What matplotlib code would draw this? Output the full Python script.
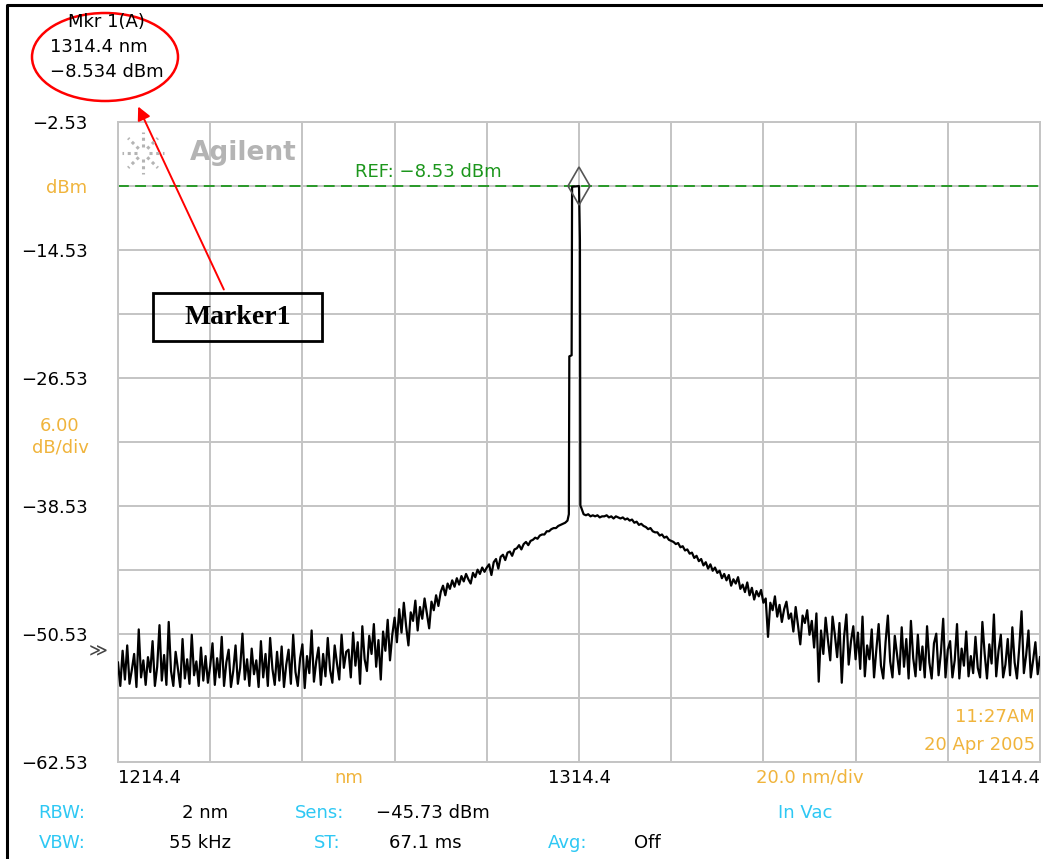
import numpy as np
import matplotlib
matplotlib.use("Agg")
import matplotlib.pyplot as plt
from matplotlib.transforms import Affine2D
from matplotlib.patches import Ellipse, Rectangle, FancyArrowPatch
from matplotlib.lines import Line2D

W, H = 1043, 859

# span / scale settings of the analyser screen
wl_start, wl_stop = 1214.4, 1414.4
ref_level = -8.53
db_per_div = 6.0

# trace left of the laser line (1214.4 .. 1311.9 nm, 0.5 nm steps)
left_dbm = [
    -53.2, -55.4, -52.1, -54.8, -51.6, -55.2, -53.9, -52.4, -55.5, -50.1,
    -54.6, -53.0, -55.3, -52.7, -54.1, -51.2, -55.4, -53.6, -49.7, -54.9,
    -52.5, -55.3, -49.4, -54.0, -55.4, -52.2, -53.8, -55.5, -51.0, -54.7,
    -52.9, -55.2, -50.6, -54.4, -53.1, -55.4, -51.8, -54.9, -52.6, -55.1,
    -53.5, -51.4, -55.3, -52.8, -54.6, -50.8, -55.4, -53.2, -52.0, -55.5,
    -54.0, -51.6, -55.2, -53.7, -50.5, -54.8, -52.9, -55.4, -51.9, -54.3,
    -53.0, -55.5, -51.2, -54.6, -52.4, -55.4, -50.9, -53.8, -55.3, -52.2,
    -54.9, -51.7, -55.5, -53.4, -52.0, -55.2, -50.6, -54.1, -55.4, -52.8,
    -51.5, -55.6, -52.6, -54.2, -50.2, -55.0, -53.1, -51.8, -55.3, -52.4,
    -54.5, -50.9, -53.9, -55.1, -51.6, -53.3, -54.8, -50.6, -53.7, -52.2,
    -52.0, -54.6, -50.4, -53.5, -51.3, -55.2, -49.8, -52.9, -54.0, -50.7,
    -52.4, -49.6, -53.6, -51.1, -54.8, -50.3, -52.1, -49.2, -53.0, -50.6,
    -49.0, -51.3, -48.2, -50.4, -47.6, -49.8, -51.6, -48.5, -49.3, -47.4,
    -50.2, -48.0, -49.1, -47.2, -48.6, -50.0, -47.5, -48.3, -46.9, -47.9,
    -46.6, -46.0, -46.9, -45.8, -46.3, -45.5, -46.1, -45.3, -45.9, -45.1,
    -45.6, -44.9, -45.4, -45.8, -44.8, -45.2, -44.5, -44.9, -44.3, -44.7,
    -44.3, -44.0, -45.0, -43.8, -43.5, -44.4, -43.3, -43.1, -43.6, -42.9,
    -42.8, -43.2, -42.6, -42.5, -42.2, -42.6, -42.1, -41.9, -42.2, -41.8,
    -41.7, -41.5, -41.6, -41.3, -41.2, -41.2, -40.9, -40.9, -40.7, -40.6,
    -40.6, -40.4, -40.3, -40.2, -40.1, -39.9,
]
left_stop = 1311.9

# laser line itself
peak_wl = [1312.2, 1312.3, 1312.8, 1312.9, 1314.4, 1314.6, 1314.7]
peak_dbm = [-39.3, -24.5, -24.4, -8.6, -8.534, -13.6, -38.5]

# trace right of the laser line (1314.9 .. 1414.4 nm)
right_dbm = [
    -38.7, -39.3, -39.4, -39.3, -39.5, -39.4, -39.5, -39.4, -39.6, -39.5,
    -39.5, -39.4, -39.6, -39.5, -39.7, -39.5, -39.6, -39.7, -39.6, -39.8,
    -39.7, -39.9, -39.8, -40.1, -40.0, -40.3, -40.2, -40.4, -40.5, -40.7,
    -40.6, -40.9, -41.0, -41.0, -41.3, -41.2, -41.5, -41.4, -41.7, -41.8,
    -41.9, -42.1, -42.0, -42.4, -42.3, -42.7, -42.6, -43.0, -42.9, -43.4,
    -43.2, -43.7, -43.5, -44.1, -43.8, -44.4, -44.0, -44.6, -44.3, -44.8,
    -44.6, -45.3, -44.9, -45.5, -45.0, -46.0, -45.4, -45.8, -45.2, -46.3,
    -45.9, -46.6, -45.7, -46.9, -46.2, -47.3, -46.5, -47.0, -46.4, -47.6,
    -47.2, -50.8, -47.6, -48.3, -47.0, -48.9, -47.8, -49.4, -48.2, -47.5,
    -49.1, -48.6, -50.3, -48.0, -49.7, -51.5, -48.8, -49.5, -48.3, -50.6,
    -49.3, -51.8, -48.6, -55.0, -50.2, -52.4, -49.0, -51.1, -53.0, -48.9,
    -50.6, -52.7, -49.5, -55.1, -50.8, -48.7, -53.4, -51.2, -49.8, -52.9,
    -50.4, -53.8, -48.9, -54.5, -51.6, -52.9, -50.1, -54.6, -52.0, -49.6,
    -53.5, -54.7, -51.3, -48.8, -53.1, -54.6, -50.7, -52.5, -54.3, -49.9,
    -53.6, -51.0, -54.7, -49.3, -52.8, -54.5, -50.6, -53.9, -51.7, -54.6,
    -49.8, -53.2, -54.7, -51.4, -50.5, -54.4, -52.3, -49.1, -54.6, -52.0,
    -51.2, -54.6, -53.0, -49.6, -54.7, -51.9, -53.5, -50.3, -54.5, -52.6,
    -54.2, -50.8, -53.7, -54.6, -49.4, -52.4, -54.7, -51.5, -53.3, -48.7,
    -54.5, -52.1, -50.6, -54.6, -53.4, -51.0, -54.4, -49.9, -53.2, -54.7,
    -51.8, -48.4, -54.2, -52.5, -50.2, -54.6, -53.0, -51.3, -54.3, -52.7,
]
right_start = 1314.9

mkr_wl, mkr_dbm = 1314.4, -8.534

x_label_pos = [1214.4, 1264.4, 1314.4, 1364.4, 1414.4]
x_labels = ["1214.4", "nm", "1314.4", "20.0 nm/div", "1414.4"]
y_labels = ["−62.53", "", "−50.53", "", "−38.53", "", "−26.53", "",
            "−14.53", "dBm", "−2.53"]

wl = np.concatenate([np.linspace(wl_start, left_stop, len(left_dbm)),
                     peak_wl,
                     np.linspace(right_start, wl_stop, len(right_dbm))])
dbm = np.concatenate([left_dbm, peak_dbm, right_dbm])

orange = "#f0b43c"
cyan = "#2ec8f4"
green = "#1c961c"
gridc = "#c4c4c4"
plt.rcParams["font.family"] = ["DejaVu Sans"]
fs = 13

fig = plt.figure(figsize=(W / 100, H / 100), dpi=100)
fig.patch.set_facecolor("white")
# pixel coordinates, origin top-left
px = Affine2D().scale(1 / W, -1 / H).translate(0, 1) + fig.transFigure

ax = fig.add_axes([118 / W, 1 - 762 / H, 922 / W, 640 / H])
ax.set_xlim(wl_start, wl_stop)
ax.set_ylim(ref_level - 9 * db_per_div, ref_level + db_per_div)

x_grid = np.linspace(wl_start, wl_stop, 11)
y_grid = np.linspace(ref_level - 9 * db_per_div, ref_level + db_per_div, 11)
ax.xaxis.remove_overlapping_locs = False
ax.set_xticks(x_grid, minor=True)
ax.set_xticks(x_label_pos)
ax.set_xticklabels(x_labels, fontsize=fs)
ax.set_yticks(y_grid)
ax.set_yticklabels(y_labels, fontsize=fs)
ax.grid(axis="x", which="minor", color=gridc, lw=1.4)
ax.grid(axis="y", which="major", color=gridc, lw=1.4)
ax.tick_params(which="both", length=0)
ax.tick_params(axis="y", pad=22)
ax.tick_params(axis="x", pad=5)
for s in ax.spines.values():
    s.set_color(gridc)
    s.set_linewidth(1.4)

xt = ax.get_xticklabels()
xt[0].set_ha("left")
xt[-1].set_ha("right")
xt[1].set_color(orange)
xt[3].set_color(orange)
ax.get_yticklabels()[9].set_color(orange)

# trace, reference line and marker
ax.axhline(ref_level, color=green, lw=1.3, ls=(0, (6, 3.5)), zorder=2)
ax.plot(wl, dbm, color="black", lw=1.6, zorder=3)
ax.plot(mkr_wl, mkr_dbm, marker="d", ms=19, mfc="none", mec="#555555",
        mew=1.2, zorder=4)
ax.text(1265.8, -7.2, "REF: −8.53 dBm", color=green, fontsize=fs,
        va="center", ha="left")

# screen annotations
fig.text(60, 426, "6.00", transform=px, color=orange, fontsize=fs,
         ha="center", va="center")
fig.text(60, 447, "dB/div", transform=px, color=orange, fontsize=fs,
         ha="center", va="center")
fig.text(98, 651, "≫", transform=px, color="#444444", fontsize=13,
         ha="center", va="center")
fig.text(1035, 717, "11:27AM", transform=px, color=orange, fontsize=fs,
         ha="right", va="center")
fig.text(1035, 745, "20 Apr 2005", transform=px, color=orange, fontsize=fs,
         ha="right", va="center")

info = [
    (62, 813, "RBW:", cyan), (205, 813, "2 nm", "black"),
    (320, 813, "Sens:", cyan), (433, 813, "−45.73 dBm", "black"),
    (805, 813, "In Vac", cyan),
    (62, 843, "VBW:", cyan), (200, 843, "55 kHz", "black"),
    (327, 843, "ST:", cyan), (425, 843, "67.1 ms", "black"),
    (568, 843, "Avg:", cyan), (647, 843, "Off", "black"),
]
for x, y, s, c in info:
    fig.text(x, y, s, transform=px, color=c, fontsize=fs,
             ha="center", va="center")

# Agilent logo
lc = "#b4b4b4"
for a in np.deg2rad(np.arange(0, 360, 45)):
    fig.add_artist(Line2D([143 + 6 * np.cos(a), 143 + 21 * np.cos(a)],
                          [153 + 6 * np.sin(a), 153 + 21 * np.sin(a)],
                          transform=px, color=lc, lw=2.2, ls=(0, (1, 1.2))))
fig.text(190, 153, "Agilent", transform=px, color=lc, fontsize=19,
         fontweight="bold", ha="left", va="center")

# marker readout
fig.text(106, 22, "Mkr 1(A)", transform=px, fontsize=fs, ha="center", va="center")
fig.text(50, 47, "1314.4 nm", transform=px, fontsize=fs, ha="left", va="center")
fig.text(50, 72, "−8.534 dBm", transform=px, fontsize=fs, ha="left", va="center")
fig.add_artist(Ellipse((105, 57), 146, 88, transform=px, fill=False,
                       ec="red", lw=1.8))
fig.add_artist(FancyArrowPatch((225, 292), (137, 104), transform=px,
                               arrowstyle="-|>", mutation_scale=20,
                               color="red", lw=1.4))
fig.add_artist(Rectangle((153, 293), 169, 48, transform=px, fill=False,
                         ec="black", lw=2))
fig.text(238, 318, "Marker1", transform=px, fontsize=20, fontweight="bold",
         family="Liberation Serif", ha="center", va="center")

# screen frame
fig.add_artist(Line2D([7, 7, 1043], [859, 5, 5], transform=px,
                      color="black", lw=2.2))

fig.savefig("out.png", dpi=100)
